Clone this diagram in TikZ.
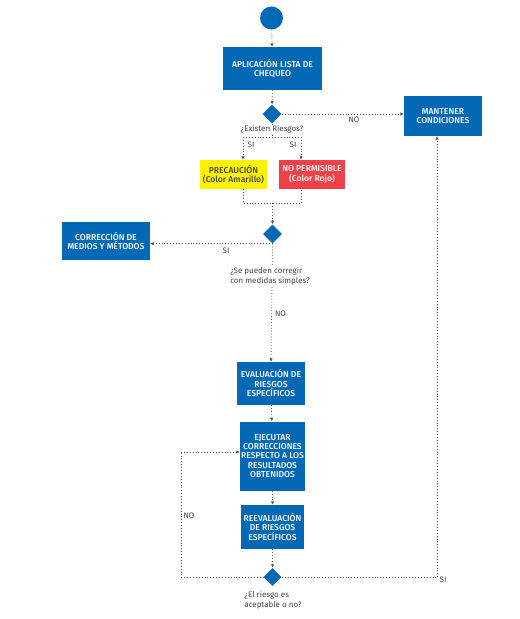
\documentclass[tikz,border=0pt]{standalone}
\usepackage{fontspec}
\setmainfont{Fira Sans}
\newfontfamily\boxfont{Fira Sans Medium}
\usetikzlibrary{shapes.geometric,arrows.meta}
\definecolor{bxblue}{HTML}{0068B5}
\definecolor{bxyellow}{HTML}{FFF200}
\definecolor{bxred}{HTML}{F2404A}
\definecolor{lncol}{HTML}{555555}
\definecolor{txcol}{HTML}{444444}
\tikzset{
  box/.style={rectangle, fill=bxblue, text=white, inner sep=1pt, align=center,
    font=\boxfont\fontsize{8.6}{9.5}\selectfont},
  dec/.style={diamond, fill=bxblue, minimum width=19bp, minimum height=19bp, inner sep=0pt, aspect=1},
  conn/.style={draw=lncol, line width=0.8bp, dash pattern=on 0.8bp off 2.1bp},
  arr/.style={conn, -{Latex[length=3.5pt,width=3.5pt]}},
  lab/.style={text=txcol, font=\fontsize{8}{10}\selectfont, inner sep=1pt},
}
\begin{document}
\begin{tikzpicture}[x=1bp,y=-1bp]
\useasboundingbox[fill=white] (0,0) rectangle (520,619);
% nodes
\node[circle, fill=bxblue, minimum size=23bp, inner sep=0pt] (start) at (271.5,18) {};
\node[box, minimum width=99bp, minimum height=43bp] (app) at (272.5,68.5) {APLICACIÓN LISTA DE\\CHEQUEO};
\node[dec] (d1) at (272,114) {};
\node[box, minimum width=78bp, minimum height=40bp] (mant) at (443,116) {MANTENER\\CONDICIONES};
\node[box, fill=bxyellow, text=txcol, minimum width=67bp, minimum height=29bp] (prec) at (233.5,174.5) {PRECAUCIÓN\\(Color Amarillo)};
\node[box, fill=bxred, minimum width=66bp, minimum height=29bp] (nop) at (312,174.5) {NO PERMISIBLE\\(Color Rojo)};
\node[dec] (d2) at (272.5,234) {};
\node[box, minimum width=88bp, minimum height=38bp] (corr) at (106,241) {CORRECCIÓN DE\\MEDIOS Y MÉTODOS};
\node[box, minimum width=68bp, minimum height=43bp] (eval) at (271,383.5) {EVALUACIÓN DE\\RIESGOS\\ESPECÍFICOS};
\node[box, minimum width=63bp, minimum height=69bp] (ejec) at (272.5,456) {EJECUTAR\\CORRECCIONES\\RESPECTO A LOS\\RESULTADOS\\OBTENIDOS};
\node[box, minimum width=63bp, minimum height=44bp] (reev) at (272.5,527) {REEVALUACIÓN\\DE RIESGOS\\ESPECÍFICOS};
\node[dec, minimum width=18bp, minimum height=18bp] (d3) at (272.5,577) {};
% coordinates
\coordinate (split) at (272,137);
\coordinate (sL) at (243,137);
\coordinate (sR) at (301,137);
\coordinate (mL) at (243,203);
\coordinate (mR) at (301,203);
\coordinate (mC) at (272.5,203);
\coordinate (loopL) at (181,577);
\coordinate (loopT) at (181,452);
\coordinate (rightB) at (437,577);
% connectors
\draw[arr] (start) -- (app);
\draw[arr] (app) -- (d1);
\draw[arr] (d1.east) -- (d1.east -| mant.west);
\draw[conn] (d1.south) -- (split);
\draw[conn] (sL) -- (sR);
\draw[arr] (sL) -- (sL |- prec.north);
\draw[arr] (sR) -- (sR |- nop.north);
\draw[conn] (sL |- prec.south) -- (mL) -- (mR) -- (sR |- nop.south);
\draw[arr] (mC) -- (d2.north);
\draw[arr] (d2.south) -- (d2.south -| corr.east);
\draw[arr] (d2.south) -- (eval.north);
\draw[arr] (eval) -- (ejec);
\draw[arr] (ejec) -- (reev);
\draw[arr] (reev) -- (d3);
\draw[conn] (d3.west) -- (loopL) -- (loopT);
\draw[arr] (loopT) -- (loopT -| ejec.west);
\draw[conn] (d3.east) -- (rightB);
\draw[arr] (rightB) -- (rightB |- mant.south);
% labels
\node[lab, fill=white, inner sep=0.5pt] (l1) at (272,129) {¿Existen Riesgos?};
\node[lab] (lno1) at (354,119.5) {NO};
\node[lab] (lsi1) at (251,145) {SI};
\node[lab] (lsi2) at (293,145) {SI};
\node[lab] (lsi3) at (226,250.5) {SI};
\node[lab, fill=white, align=left] (l2) at (270,276) {¿Se pueden corregir\\con medidas simples?};
\node[lab] (lno2) at (280.5,314) {NO};
\node[lab] (lno3) at (189,516) {NO};
\node[lab] (lsi4) at (443,580) {SI};
\node[lab, fill=white, align=left] (l3) at (273,600) {¿El riesgo es\\aceptable o no?};
\end{tikzpicture}
\end{document}
